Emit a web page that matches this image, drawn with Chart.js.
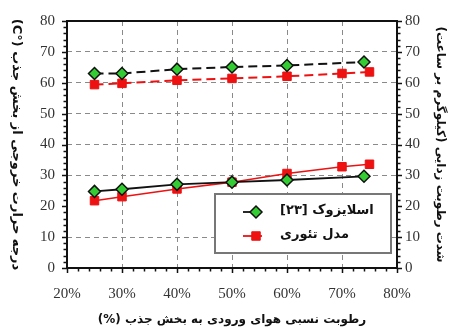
<!DOCTYPE html>
<html>
<head>
<meta charset="utf-8">
<script src="https://cdn.jsdelivr.net/npm/chart.js@4.4.0/dist/chart.umd.min.js"></script>
<style>
  body { margin: 0; background: #fff; }
  #wrap { width: 453px; height: 333px; position: relative; }
</style>
</head>
<body>
<div id="wrap"><canvas id="chart"></canvas></div>
<script>
// رطوبت نسبی (%)
const humExp = [25, 30, 40, 50, 60, 74];
const humModel = [25, 30, 40, 50, 60, 70, 75];

// دما خروجی (°C) - محور چپ
const tempExp = [24.8, 25.5, 27.1, 27.8, 28.5, 29.7];
const tempModel = [21.8, 23.1, 25.6, 27.8, 30.6, 32.8, 33.6];

// شدت رطوبت زدایی - محور راست
const rateExp = [63.0, 63.0, 64.4, 65.1, 65.6, 66.7];
const rateModel = [59.4, 59.8, 60.8, 61.4, 62.1, 63.0, 63.5];

const xTicks = [20, 30, 40, 50, 60, 70, 80];
const yTicks = [0, 10, 20, 30, 40, 50, 60, 70, 80];

const legendNames = ['اسلایزوک [۲۳]', 'مدل تئوری'];
const xTitle = 'رطوبت نسبی هوای ورودی به بخش جذب (%)';
const yTitle = 'درجه حرارت خروجی از بخش جذب (°C)';
const y1Title = 'شدت رطوبت زدایی (کیلوگرم بر ساعت)';

const GREEN = '#33cc33';
const RED = '#ee1111';

// متن راست به چپ
const rtl = (s) => '\u202B' + s + '\u202C';

function pts(xs, ys) {
    return xs.map((x, i) => ({ x: x, y: ys[i] }));
}

const tickFont = { family: 'Liberation Serif', size: 15 };
const titleFont = { family: 'DejaVu Sans', size: 12, weight: 'bold' };

const data = {
    datasets: [
        {
            label: legendNames[0],
            data: pts(humExp, tempExp),
            yAxisID: 'y',
            borderColor: '#111',
            borderWidth: 1.8,
            pointStyle: 'rectRot',
            pointRadius: 6,
            pointBackgroundColor: GREEN,
            pointBorderColor: '#111',
            pointBorderWidth: 1.5,
        },
        {
            label: legendNames[1],
            data: pts(humModel, tempModel),
            yAxisID: 'y',
            borderColor: RED,
            borderWidth: 1.6,
            pointStyle: 'rect',
            pointRadius: 6,
            pointBackgroundColor: RED,
            pointBorderColor: RED,
            pointBorderWidth: 1,
        },
        {
            label: legendNames[0],
            data: pts(humExp, rateExp),
            yAxisID: 'y1',
            borderColor: '#111',
            borderWidth: 2,
            borderDash: [9, 5],
            pointStyle: 'rectRot',
            pointRadius: 6,
            pointBackgroundColor: GREEN,
            pointBorderColor: '#111',
            pointBorderWidth: 1.5,
        },
        {
            label: legendNames[1],
            data: pts(humModel, rateModel),
            yAxisID: 'y1',
            borderColor: RED,
            borderWidth: 2,
            borderDash: [9, 5],
            pointStyle: 'rect',
            pointRadius: 6,
            pointBackgroundColor: RED,
            pointBorderColor: RED,
            pointBorderWidth: 1,
        },
    ]
};

// کادر، تیک های ریز، عنوان محور چپ و راهنما
const frameAndLegend = {
    id: 'frameAndLegend',
    afterDatasetsDraw(chart) {
        const { ctx, chartArea: { top, bottom, left, right }, scales: { x, y, y1 } } = chart;
        ctx.save();
        ctx.strokeStyle = '#111';
        ctx.lineWidth = 1.5;
        // ticks
        ctx.beginPath();
        for (let v = 20; v <= 80; v += 2) {
            const px = Math.round(x.getPixelForValue(v)) + 0.5;
            const len = v % 10 === 0 ? 5 : 3.5;
            ctx.moveTo(px, bottom);
            ctx.lineTo(px, bottom + len);
        }
        for (let v = 0; v <= 80; v += 2) {
            const py = Math.round(y.getPixelForValue(v)) + 0.5;
            const len = v % 10 === 0 ? 5 : 3.5;
            ctx.moveTo(left, py);
            ctx.lineTo(left - len, py);
            const py1 = Math.round(y1.getPixelForValue(v)) + 0.5;
            ctx.moveTo(right, py1);
            ctx.lineTo(right + len, py1);
        }
        ctx.stroke();
        ctx.lineWidth = 2;
        ctx.strokeRect(left, top, right - left, bottom - top);

        // left axis title, rotated clockwise like the original
        ctx.save();
        ctx.translate(16, (top + bottom) / 2);
        ctx.rotate(Math.PI / 2);
        ctx.fillStyle = '#111';
        ctx.font = 'bold 13px "DejaVu Sans"';
        ctx.textAlign = 'center';
        ctx.textBaseline = 'middle';
        ctx.fillText(rtl(yTitle), 0, 0);
        ctx.restore();

        // legend box
        const lx = 215, ly = 194, lw = 176, lh = 59;
        ctx.fillStyle = '#fff';
        ctx.fillRect(lx, ly, lw, lh);
        ctx.strokeStyle = '#777';
        ctx.lineWidth = 2;
        ctx.strokeRect(lx, ly, lw, lh);

        const rows = [212, 236];
        [0, 1].forEach((i) => {
            const ds = chart.data.datasets[i];
            const ry = rows[i];
            ctx.strokeStyle = ds.borderColor;
            ctx.lineWidth = 1.8;
            ctx.setLineDash([]);
            ctx.beginPath();
            ctx.moveTo(243, ry);
            ctx.lineTo(262, ry);
            ctx.stroke();
            ctx.fillStyle = ds.pointBackgroundColor;
            ctx.strokeStyle = ds.pointBorderColor;
            ctx.lineWidth = ds.pointBorderWidth;
            Chart.helpers.drawPoint(ctx, {
                pointStyle: ds.pointStyle,
                radius: ds.pointRadius,
                rotation: 0,
                borderWidth: ds.pointBorderWidth
            }, 256, ry);
            ctx.fillStyle = '#111';
            ctx.font = 'bold 13px "DejaVu Sans"';
            ctx.textAlign = 'left';
            ctx.textBaseline = 'middle';
            ctx.fillText(rtl(ds.label), 280, ry - 1);
        });
        ctx.restore();
    }
};

const gridColor = (c) => {
    const v = c.tick ? c.tick.value : null;
    return (v === 20 || v === 80 || v === 0) ? 'rgba(0,0,0,0)' : '#8a8a8a';
};

const config = {
    type: 'line',
    data,
    options: {
        responsive: true,
        maintainAspectRatio: false,
        animation: false,
        layout: { padding: { top: 13, right: 0, bottom: 0, left: 0 } },
        plugins: {
            legend: { display: false },
            tooltip: { enabled: false },
        },
        scales: {
            x: {
                type: 'linear',
                min: 20,
                max: 80,
                afterFit(s) { s.height = 65; },
                afterBuildTicks(s) { s.ticks = xTicks.map(v => ({ value: v })); },
                ticks: {
                    font: tickFont,
                    color: '#333',
                    padding: 17,
                    maxRotation: 0,
                    callback: (v) => v + '%',
                },
                grid: { color: gridColor, lineWidth: 1, drawTicks: false },
                border: { display: false, dash: [5, 4] },
                title: {
                    display: true,
                    text: rtl(xTitle),
                    font: titleFont,
                    color: '#111',
                    padding: { top: 0, bottom: 6 },
                },
            },
            y: {
                position: 'left',
                min: 0,
                max: 80,
                afterFit(s) { s.width = 67; },
                afterBuildTicks(s) { s.ticks = yTicks.map(v => ({ value: v })); },
                ticks: { font: tickFont, color: '#333', padding: 12 },
                grid: { color: gridColor, lineWidth: 1, drawTicks: false },
                border: { display: false, dash: [5, 4] },
                title: { display: false },
            },
            y1: {
                position: 'right',
                min: 0,
                max: 80,
                afterFit(s) { s.width = 56; },
                afterBuildTicks(s) { s.ticks = yTicks.map(v => ({ value: v })); },
                ticks: { font: tickFont, color: '#333', padding: 8 },
                grid: { drawOnChartArea: false, drawTicks: false },
                border: { display: false },
                title: {
                    display: true,
                    text: rtl(y1Title),
                    font: titleFont,
                    color: '#111',
                    padding: { top: 6, bottom: 0 },
                },
            },
        },
    },
    plugins: [frameAndLegend]
};

var chart = new Chart(document.getElementById('chart'), config);
</script>
</body>
</html>
